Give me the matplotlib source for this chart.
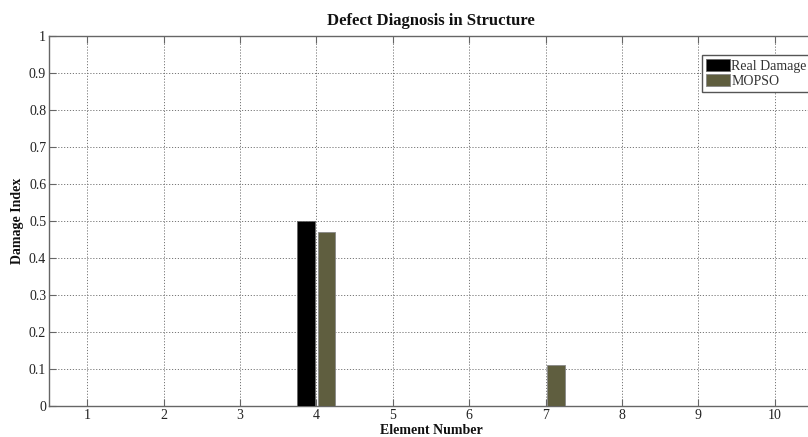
import numpy as np
import matplotlib
matplotlib.use('Agg')
import matplotlib.pyplot as plt

plt.rcParams['font.family'] = ['Liberation Serif', 'DejaVu Serif']

# data
elements = np.arange(1, 11)
real_damage = [0, 0, 0, 0.5, 0, 0, 0, 0, 0, 0]
mopso = [0, 0, 0, 0.47, 0, 0, 0.11, 0, 0, 0]

fig = plt.figure(figsize=(8.08, 4.37), dpi=100)
# axes runs a little past the right edge, as in the cropped original
ax = fig.add_axes([49/808, 31/437, 764/808, 370/437])

w = 0.225
off = 0.137
ax.bar(elements - off, real_damage, w, color='black', edgecolor='#666666', linewidth=0.6, label='Real Damage', zorder=3)
ax.bar(elements + off, mopso, w, color='#5f5e3f', edgecolor='#888888', linewidth=0.6, label='MOPSO', zorder=3)

ax.set_xlim(0.5, 10.5)
ax.set_ylim(0, 1)
ax.set_xticks(elements)
ax.set_yticks(np.arange(0, 1.01, 0.1))
ax.set_yticklabels(['0', '0.1', '0.2', '0.3', '0.4', '0.5', '0.6', '0.7', '0.8', '0.9', '1'])
ax.grid(True, linestyle=(0, (1.2, 1.8)), color='#777777', linewidth=0.7)
ax.set_axisbelow(True)
ax.tick_params(direction='in', top=True, right=False, labelsize=10, length=5, color='#666666', width=0.8, pad=2,
               labelcolor='#222222')
for s in ['left', 'bottom', 'top']:
    ax.spines[s].set_color('#666666')
    ax.spines[s].set_linewidth(1.0)
ax.spines['right'].set_visible(False)

fig.text(431/808, 1 - 21/437, 'Defect Diagnosis in Structure', fontsize=12, fontweight='bold',
         ha='center', va='center', color='#111111')
fig.text(431/808, 1 - 430/437, 'Element Number', fontsize=10, fontweight='bold',
         ha='center', va='center', color='#111111')
fig.text(18/808, 1 - 221/437, 'Damage Index', fontsize=10, fontweight='bold', rotation=90,
         ha='center', va='center', color='#111111')

leg = ax.legend(loc='upper left', bbox_to_anchor=(702/808, 1 - 55/437), bbox_transform=fig.transFigure,
                fontsize=10, fancybox=False, framealpha=1, edgecolor='#555555',
                handlelength=1.75, handleheight=0.9, handletextpad=0.05, labelspacing=0.1,
                borderpad=0.3, borderaxespad=0)
leg.get_frame().set_linewidth(1.0)
for t in leg.get_texts():
    t.set_color('#333333')

fig.savefig('out.png', dpi=100)
